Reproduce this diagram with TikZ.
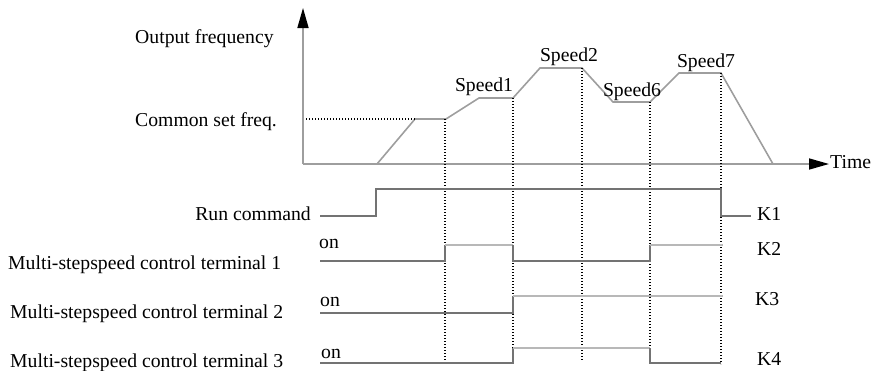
\documentclass[tikz,border=0pt]{standalone}
\usepackage{fontspec}
\setmainfont{Liberation Serif}
\usepackage{tikz}
\usetikzlibrary{arrows.meta,positioning}
\definecolor{curvegray}{gray}{0.62}
\definecolor{lowgray}{gray}{0.45}
\definecolor{highgray}{gray}{0.72}

\begin{document}
\begin{tikzpicture}[x=1pt, y=-1pt,
      font=\fontsize{19.7}{22}\selectfont,
      lbl/.style={inner sep=0pt, anchor=base west},
      rlbl/.style={inner sep=0pt, anchor=base east},
      clbl/.style={inner sep=0pt, anchor=base},
      axis/.style={draw=curvegray, line width=1.6pt,
                   -{Triangle[length=20pt, width=11pt, color=black]}},
      curve/.style={draw=curvegray, line width=1.6pt},
      low/.style={draw=lowgray, line width=1.6pt},
      high/.style={draw=highgray, line width=1.6pt},
      guide/.style={draw=black, line width=1.1pt, dash pattern=on 1.2pt off 1.8pt}
    ]
    \useasboundingbox (0,0) rectangle (871,370);

    % Frequency plot
    \coordinate (orig) at (303,164);
    \coordinate (ytip) at (303,8);
    \coordinate (xtip) at (829,164);
    \draw[axis] (orig) -- (ytip);
    \draw[axis] (orig) -- (xtip);
    \node[lbl] (time)  at (830,168) {Time};
    \node[lbl] (outf)  at (135,43)  {Output frequency};
    \node[lbl] (cset)  at (135,126) {Common set freq.};

    \draw[curve] (377,164) -- (415,119) -- (446,119) -- (479,98) -- (513,98)
                 -- (540,68) -- (582,68) -- (613,102) -- (650,102)
                 -- (679,73) -- (721,73) -- (773,164);
    \node[clbl] (sp1) at (484,91) {Speed1};
    \node[clbl] (sp2) at (569,61) {Speed2};
    \node[clbl] (sp6) at (632,96) {Speed6};
    \node[clbl] (sp7) at (706,67) {Speed7};

    % Guide lines
    \draw[guide] (306,119) -- (415,119);
    \draw[guide] (445,119) -- (445,362);
    \draw[guide] (513,98)  -- (513,364);
    \draw[guide] (582,68)  -- (582,360);
    \draw[guide] (650,102) -- (650,364);
    \draw[guide] (721,73)  -- (721,364);

    % Run command
    \node[rlbl] (run) at (311,220) {Run command};
    \draw[low] (320,216) -- (376,216) -- (376,189) -- (721,189) -- (721,216) -- (751,216);
    \node[lbl] (k1) at (757,220) {K1};

    % Terminal 1
    \node[lbl] (term1) at (8,269) {Multi-stepspeed control terminal 1};
    \node[lbl] (on1)   at (319,248) {on};
    \draw[low]  (320,261) -- (445,261) -- (445,245);
    \draw[high] (445,245) -- (513,245);
    \draw[low]  (513,245) -- (513,261) -- (650,261) -- (650,245);
    \draw[high] (650,245) -- (723,245);
    \node[lbl] (k2) at (757,255) {K2};

    % Terminal 2
    \node[lbl] (term2) at (10,318) {Multi-stepspeed control terminal 2};
    \node[lbl] (on2)   at (320,306) {on};
    \draw[low]  (320,313) -- (513,313) -- (513,296);
    \draw[high] (513,296) -- (723,296);
    \node[lbl] (k3) at (755,305) {K3};

    % Terminal 3
    \node[lbl] (term3) at (10,367) {Multi-stepspeed control terminal 3};
    \node[lbl] (on3)   at (321,358) {on};
    \draw[low]  (320,363) -- (513,363) -- (513,348);
    \draw[high] (513,348) -- (650,348);
    \draw[low]  (650,348) -- (650,363) -- (721,363);
    \node[lbl] (k4) at (757,365) {K4};
  \end{tikzpicture}
\end{document}
